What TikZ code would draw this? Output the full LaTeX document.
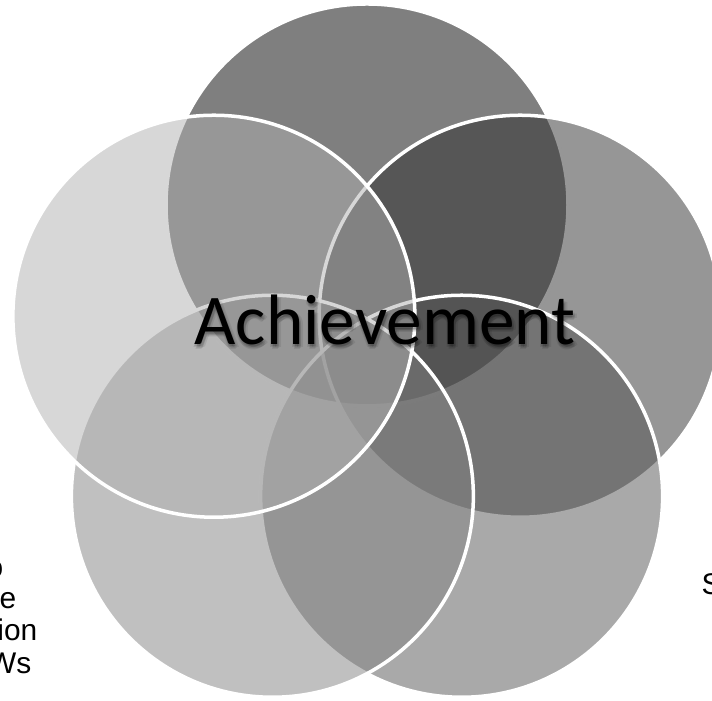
\documentclass[tikz,border=0pt]{standalone}
\usepackage{fontspec}
\setmainfont{Liberation Sans}
\newfontfamily\calfont{Carlito}

\begin{document}
\begin{tikzpicture}[x=0.01cm, y=0.01cm,
		venn/.style={fill=#1, fill opacity=0.5, draw=white, line width=0.035cm},
		sidetext/.style={font=\fontsize{8.5}{10}\selectfont, inner sep=0pt},
		bigtext/.style={font=\calfont\fontsize{20.3}{24}\selectfont, inner sep=0pt}]

	\useasboundingbox (0,0) rectangle (712,701);
	\clip (0,0) rectangle (712,701);

	% five circles round a pentagon, clockwise from the top
	\coordinate (ctr) at (367,335);
	\filldraw[venn=black] (ctr) ++(90:161) circle [radius=201];
	\filldraw[venn=black!82] (ctr) ++(18:161) circle [radius=201];
	\filldraw[venn=black!67] (ctr) ++(306:161) circle [radius=201];
	\filldraw[venn=black!49] (ctr) ++(234:161) circle [radius=201];
	\filldraw[venn=black!31] (ctr) ++(162:161) circle [radius=201];

	% label in the middle, with a soft shadow
	\foreach \dx/\dy [count=\i] in {0/-2, 2/-2, 2/-4, 4/-3, 1/-5, -1/-3}
		\node[bigtext, anchor=base, black, opacity=0.08] (achvshadow\i) at (385+\dx,356+\dy) {Achievement};
	\node[bigtext, anchor=base] (achv) at (385,356) {Achievement};

	% text cut off at the edges
	\node[sidetext, anchor=base east] (lefta) at (4,123) {o};
	\node[sidetext, anchor=base east] (leftb) at (17,92) {e};
	\node[sidetext, anchor=base east] (leftc) at (38,60) {ion};
	\node[sidetext, anchor=base east] (leftd) at (32,27) {Ws};
	\node[sidetext, anchor=base west] (righta) at (701,106) {S};

\end{tikzpicture}
\end{document}
